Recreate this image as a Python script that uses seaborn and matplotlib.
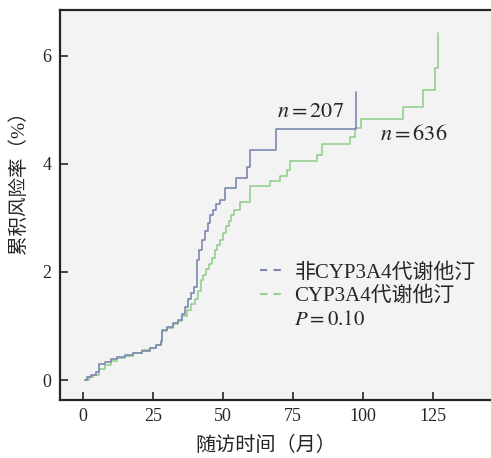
import matplotlib
matplotlib.use("Agg")
import matplotlib.pyplot as plt
from matplotlib.lines import Line2D
import seaborn as sns
import pandas as pd

# Non-CYP3A4 statins (n=207)
blue_t = [0.7, 1.5, 3, 4.5, 5.8, 8, 10, 12, 15, 18, 21, 24, 26, 27.8, 28.2, 30, 32, 34,
          35.5, 36.5, 37.5, 38.5, 39.5, 40.6, 41.5, 42.5, 43.5, 44.5, 45.5, 46.5, 47.5,
          49, 50.6, 54.5, 58.5, 59.6, 68.8, 97.6]
blue_v = [0.0, 0.05, 0.10, 0.15, 0.30, 0.33, 0.38, 0.42, 0.46, 0.50, 0.54, 0.60, 0.64,
          0.72, 0.92, 0.98, 1.05, 1.12, 1.22, 1.35, 1.50, 1.62, 1.72, 2.22, 2.40, 2.60,
          2.75, 2.90, 3.05, 3.15, 3.25, 3.33, 3.55, 3.74, 3.95, 4.25, 4.65, 5.33]

# CYP3A4 statins (n=636)
green_t = [0.7, 2, 3.5, 5.8, 8, 10, 12, 15, 18, 21, 24, 26, 27.8, 28.2, 30, 32, 34, 35.5,
           37, 38.5, 40, 41, 42, 43, 44, 45, 46, 47, 48, 49, 50, 51, 52, 53, 54, 56, 59.6,
           66.8, 70.4, 72.7, 74, 83.5, 85.5, 95.4, 97.1, 99.3, 114.4, 121.5, 125.7, 126.7]
green_v = [0.0, 0.05, 0.10, 0.20, 0.28, 0.35, 0.40, 0.45, 0.50, 0.55, 0.60, 0.65, 0.70,
           0.90, 0.97, 1.03, 1.10, 1.18, 1.30, 1.40, 1.50, 1.65, 1.85, 1.95, 2.05, 2.15,
           2.25, 2.40, 2.50, 2.60, 2.72, 2.85, 2.95, 3.05, 3.15, 3.30, 3.60, 3.68, 3.77,
           3.89, 4.05, 4.17, 4.37, 4.50, 4.66, 4.84, 5.06, 5.37, 5.77, 6.42]

labels = ["非CYP3A4代谢他汀", "CYP3A4代谢他汀"]
p_text = "$P=0.10$"
n_labels = ["$n=207$", "$n=636$"]
x_ticks = [0, 25, 50, 75, 100, 125]
y_ticks = [0, 2, 4, 6]

blue_c = "#7c87b2"
green_c = "#94cf8e"

sns.set_style("ticks")
plt.rcParams["font.family"] = ["Liberation Serif", "Noto Sans CJK SC", "DejaVu Sans"]
plt.rcParams["mathtext.fontset"] = "stix"

fig = plt.figure(figsize=(4.91, 4.58), dpi=100)
ax = fig.add_axes([60 / 491, 1 - 400 / 458, 1 - 60 / 491, 390 / 458])
ax.set_facecolor("#f3f3f3")

df_b = pd.DataFrame({"t": blue_t, "v": blue_v})
df_g = pd.DataFrame({"t": green_t, "v": green_v})
sns.lineplot(data=df_g, x="t", y="v", ax=ax, color=green_c, lw=1.2,
             drawstyle="steps-post", estimator=None)
sns.lineplot(data=df_b, x="t", y="v", ax=ax, color=blue_c, lw=1.2,
             drawstyle="steps-post", estimator=None)

ax.set_xlim(-8.2, 145.7)
ax.set_ylim(-0.37, 6.85)
ax.set_xticks(x_ticks)
ax.set_yticks(y_ticks)
ax.tick_params(direction="in", length=6, width=1.2, labelsize=13, pad=6)
for s in ["left", "bottom", "top"]:
    ax.spines[s].set_linewidth(1.6)
ax.spines["right"].set_visible(False)

ax.set_xlabel("随访时间（月）", fontsize=14.5)
ax.set_ylabel("累积风险率（%）", fontsize=14)
ax.xaxis.set_label_coords(0.478, -0.093)
ax.yaxis.set_label_coords(-0.074, 0.57)

ax.text(69.4, 4.96, n_labels[0], fontsize=16, va="center", ha="left")
ax.text(106.2, 4.54, n_labels[1], fontsize=16, va="center", ha="left")

handles = [Line2D([], [], color=blue_c, lw=1.5, ls=(0, (3.5, 3))),
           Line2D([], [], color=green_c, lw=1.5, ls=(0, (3.5, 3))),
           Line2D([], [], color="none")]
leg = ax.legend(handles, labels + [p_text], loc="upper left", bbox_to_anchor=(0.464, 0.352),
                frameon=False, fontsize=15, handlelength=1.1, handletextpad=0.55,
                labelspacing=0.2, borderaxespad=0, borderpad=0)

fig.savefig("out.png", dpi=100)
